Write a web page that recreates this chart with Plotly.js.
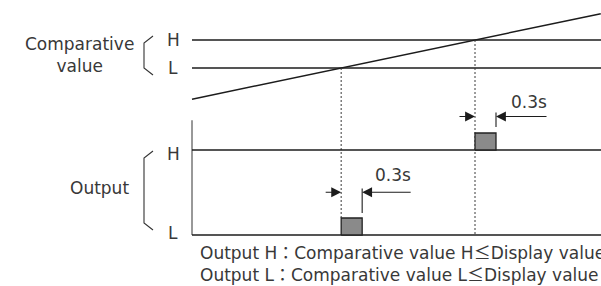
<!DOCTYPE html>
<html>
<head>
<meta charset="utf-8">
<script src="https://cdn.plot.ly/plotly-3.0.1.min.js"></script>
<style>
  html, body { margin: 0; padding: 0; background: #fff; overflow: hidden; }
  #chart { width: 601px; height: 286px; }
</style>
</head>
<body>
<div id="chart"></div>
<script>
// ---- data (time in seconds, comparative value in level units, output in level units) ----
const levelNames = ['H', 'L'];
const compLevels = [2, 1];          // comparative value H, L
const outLevels = [1, 0];           // output H, L
const lineT = [0, 5.9];             // span of the level lines
const rampT = [0, 5.84];            // display value ramp (time)
const rampV = [-0.115, 2.94];       // display value ramp (value)
const crossT = [2.131, 4.043];      // display value reaches L, H
const DELAY = 0.3;                  // output delay (s)
const pulseHeight = 0.2;
const outputAxisTop = 1.35;
const delayLabel = '0.3s';
const leftLabels = ['Comparative<br>value', 'Output'];
const LE = '<span style="font-family:\'Noto Sans CJK KR\'">\u2264</span>';
const CO = '<span style="font-family:\'Noto Sans CJK KR\'">\uFF1A</span>';
const noteLines = [
  'Output H' + CO + 'Comparative value H' + LE + 'Display value',
  'Output L' + CO + 'Comparative value L' + LE + 'Display value'
];

// ---- layout helpers ----
const W = 601, H = 286;
const X_RANGE = [-2.743, 5.843];
const Y1 = [-6.7857, 3.4286];
const Y2 = [-0.6, 2.7647];
const px = x => x / W;
const py = y => 1 - y / H;
function y1ToY2(v) {
  const f = (v - Y1[0]) / (Y1[1] - Y1[0]);
  return Y2[0] + f * (Y2[1] - Y2[0]);
}

const INK = '#1c1c1c';
const TXT = '#383838';
const FONT = { family: 'DejaVu Sans, Noto Sans CJK KR', size: 17, color: TXT };

const traces = [];
function line(x, y, axis, opts) {
  traces.push(Object.assign({
    type: 'scatter', mode: 'lines', x: x, y: y, yaxis: axis,
    hoverinfo: 'skip', showlegend: false,
    line: { color: INK, width: 1.4 }
  }, opts || {}));
}

// dotted guide lines
const dotStyle = { line: { color: '#3a3a3a', width: 1, dash: '2px,2px' } };
line([crossT[0], crossT[0]], [y1ToY2(compLevels[1]), outLevels[1] + pulseHeight], 'y2', dotStyle);
line([crossT[1], crossT[1]], [y1ToY2(compLevels[0]), outLevels[1]], 'y2', dotStyle);

// comparative level lines
compLevels.forEach(v => line(lineT, [v, v], 'y'));
// display value ramp
line(rampT, rampV, 'y', { line: { color: INK, width: 1.5 } });

// output axis and levels
line([lineT[0], lineT[0]], [outLevels[1], outputAxisTop], 'y2', { line: { color: '#333', width: 1 } });
outLevels.forEach(v => line(lineT, [v, v], 'y2'));

// output pulses (delayed by DELAY)
const pulses = [
  { t: crossT[1], base: outLevels[0] },
  { t: crossT[0], base: outLevels[1] }
];
pulses.forEach(p => {
  line([p.t, p.t, p.t + DELAY, p.t + DELAY, p.t],
       [p.base, p.base + pulseHeight, p.base + pulseHeight, p.base, p.base], 'y2',
       { fill: 'toself', fillcolor: '#8a8a8a', line: { color: '#222', width: 1.3 } });
});

// ---- annotations ----
const ann = [];
function label(text, x, y, opts) {
  ann.push(Object.assign({
    xref: 'paper', yref: 'paper', x: px(x), y: py(y), text: text,
    showarrow: false, xanchor: 'center', yanchor: 'middle', font: FONT
  }, opts || {}));
}
label(leftLabels[0], 79, 55);
label(leftLabels[1], 99, 188);
label(levelNames[0], 173, 40);
label(levelNames[1], 173, 68);
label(levelNames[0], 173, 154);
label(levelNames[1], 173, 233);
label(delayLabel, 529, 102);
label(delayLabel, 393, 175);
label(noteLines[0], 198, 251.5, { xanchor: 'left' });
label(noteLines[1], 198, 273.5, { xanchor: 'left' });

// delay arrows
function arrow(t, y, ax) {
  ann.push({
    xref: 'x', yref: 'paper', x: t, y: py(y), ax: ax, ay: 0, text: '',
    showarrow: true, arrowhead: 2, arrowsize: 1.8, arrowwidth: 1.1,
    arrowcolor: INK, standoff: 0
  });
}
arrow(crossT[1], 116.5, -17);
arrow(crossT[1] + DELAY, 116.5, 52);
arrow(crossT[0], 192.3, -17);
arrow(crossT[0] + DELAY, 192.3, 50);

// ---- shapes: delay ticks and braces ----
const shapes = [];
shapes.push({ type: 'line', xref: 'x', yref: 'paper', x0: crossT[1] + DELAY, x1: crossT[1] + DELAY,
  y0: py(112.5), y1: py(127), line: { color: INK, width: 1.1 } });
shapes.push({ type: 'line', xref: 'x', yref: 'paper', x0: crossT[0] + DELAY, x1: crossT[0] + DELAY,
  y0: py(188.5), y1: py(213), line: { color: INK, width: 1.1 } });
function brace(top, bottom) {
  const pts = [[153, top], [144, top + 7], [144, bottom - 7], [153, bottom]];
  const d = pts.map((p, i) => (i ? 'L' : 'M') + px(p[0]) + ',' + py(p[1])).join(' ');
  shapes.push({ type: 'path', xref: 'paper', yref: 'paper', path: d,
    line: { color: '#333', width: 1.1 } });
}
brace(36, 75);
brace(151, 230);

const layout = {
  width: W, height: H,
  margin: { l: 0, r: 0, t: 0, b: 0, pad: 0 },
  paper_bgcolor: '#fff', plot_bgcolor: '#fff',
  showlegend: false,
  xaxis: { range: X_RANGE, visible: false, fixedrange: true },
  yaxis: { range: Y1, visible: false, fixedrange: true, domain: [0, 1] },
  yaxis2: { range: Y2, visible: false, fixedrange: true, overlaying: 'y' },
  annotations: ann,
  shapes: shapes
};

Plotly.newPlot('chart', traces, layout, { staticPlot: true, displayModeBar: false });
</script>
</body>
</html>
